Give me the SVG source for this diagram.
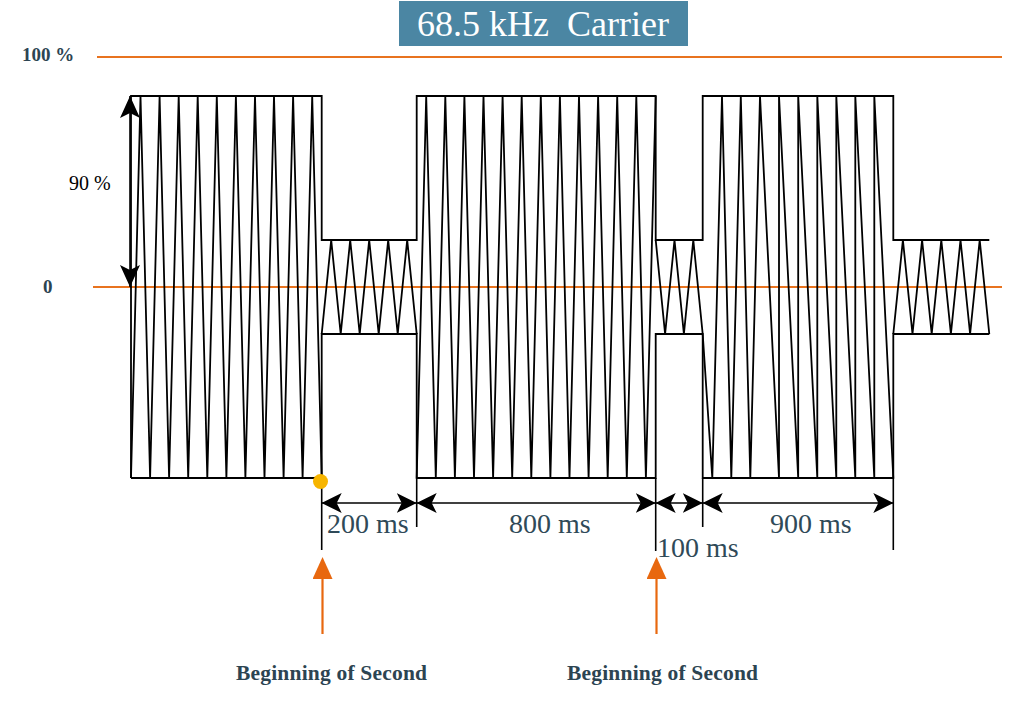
<svg xmlns="http://www.w3.org/2000/svg" width="1009" height="708" viewBox="0 0 1009 708">
  <style>
    .wave { fill: none; stroke: #000; stroke-width: 1.8; stroke-linejoin: miter; }
    .ref { stroke: #E8731F; stroke-width: 2; }
    .dim { stroke: #000; stroke-width: 1.6; fill: none; }
    .ext { stroke: #000; stroke-width: 1.6; }
    .orange { stroke: #E8680F; stroke-width: 2.2; }
    .lbl { font-family: "Liberation Serif", "Times New Roman", serif; fill: #2C4452; font-weight: bold; }
    .dimtxt { font-family: "Liberation Serif", "Times New Roman", serif; fill: #2F4A58; font-size: 28px; }
    .title { font-family: "Liberation Serif", "Times New Roman", serif; fill: #FFFFFF; font-size: 36px; }
  </style>
  <defs>
    <marker id="arr" viewBox="0 0 20 20" refX="20" refY="10" markerWidth="20" markerHeight="20" markerUnits="userSpaceOnUse" orient="auto-start-reverse">
      <path d="M0,0 L20,10 L0,20 L5,10 z" fill="#000"/>
    </marker>
    <marker id="arrV" viewBox="0 0 22 20" refX="22" refY="10" markerWidth="22" markerHeight="20" markerUnits="userSpaceOnUse" orient="auto-start-reverse">
      <path d="M0,0 L22,10 L0,20 L5,10 z" fill="#000"/>
    </marker>
    <marker id="arrO" viewBox="0 0 22 20" refX="0" refY="10" markerWidth="22" markerHeight="20" markerUnits="userSpaceOnUse" orient="auto">
      <path d="M0,0 L22,10 L0,20 z" fill="#E8680F"/>
    </marker>
  </defs>

  <rect width="1009" height="708" fill="#FFFFFF"/>

  <g id="title">
    <rect x="399" y="1" width="289" height="45" fill="#4B86A3"/>
    <text class="title" x="417" y="36">68.5 kHz&#160; Carrier</text>
  </g>

  <g id="reference-lines">
    <line class="ref" x1="97" y1="57" x2="1002" y2="57"/>
    <line class="ref" x1="93" y1="287" x2="1002" y2="287"/>
    <text class="lbl" x="22" y="61" font-size="19">100 %</text>
    <text class="lbl" x="43" y="293" font-size="19">0</text>
  </g>

  <g id="envelope">
    <path class="wave" d="M131,478 L131,96 L321.7,96 L321.7,240 L416.7,240 L416.7,96 L655.7,96 L655.7,240 L702.7,240 L702.7,96 L893.3,96 L893.3,240 L989.3,240"/>
    <path class="wave" d="M131,478 L321.7,478 L321.7,334 L416.7,334 L416.7,478 L655.7,478 L655.7,334 L702.7,334 L702.7,478 L893.3,478 L893.3,334 L989.3,334"/>
  </g>

  <g id="carrier">
    <polyline class="wave" points="131,478 140.5,96 150.1,478 159.6,96 169.1,478 178.7,96 188.2,478 197.7,96 207.3,478 216.8,96 226.4,478 235.9,96 245.4,478 255,96 264.5,478 274,96 283.6,478 293.1,96 302.6,478 312.2,96 321.7,478"/>
    <polyline class="wave" points="321.7,334 331.2,240 340.7,334 350.2,240 359.7,334 369.2,240 378.7,334 388.2,240 397.7,334 407.2,240 416.7,334"/>
    <polyline class="wave" points="416.7,478 426.2,96 435.8,478 445.3,96 454.9,478 464.4,96 474,478 483.5,96 493.1,478 502.6,96 512.2,478 521.7,96 531.3,478 540.8,96 550.4,478 559.9,96 569.5,478 579,96 588.6,478 598.1,96 607.7,478 617.2,96 626.8,478 636.3,96 645.9,478 655.7,96"/>
    <polyline class="wave" points="655.7,240 665.1,334 674.5,240 683.9,334 693.3,240 702.7,334 712.3,478 722,96 731.3,478 740.8,96 750.3,478 760,96 779,478 779,96 798.2,478 798.2,96 817.3,478 817.3,96 836.3,478 836.3,96 855.3,478 855.3,96 874.3,478 874.3,96 893.3,478"/>
    <polyline class="wave" points="893.3,334 902.9,240 912.5,334 922.1,240 931.7,334 941.3,240 950.9,334 960.5,240 970.1,334 979.7,240 989.3,334"/>
  </g>

  <g id="amplitude">
    <line class="dim" x1="130" y1="96" x2="130" y2="287" marker-start="url(#arrV)" marker-end="url(#arrV)"/>
    <text x="69" y="190" font-family="Liberation Serif, Times New Roman, serif" font-size="20" fill="#000">90 %</text>
  </g>

  <g id="connectors">
    <line class="ext" x1="321.7" y1="478" x2="321.7" y2="550"/>
    <line class="ext" x1="416.7" y1="478" x2="416.7" y2="527"/>
    <line class="ext" x1="655.7" y1="478" x2="655.7" y2="551"/>
    <line class="ext" x1="702.7" y1="478" x2="702.7" y2="527"/>
    <line class="ext" x1="893.3" y1="478" x2="893.3" y2="550"/>
    <line class="dim" x1="321.7" y1="503" x2="416.7" y2="503" marker-start="url(#arr)" marker-end="url(#arr)"/>
    <line class="dim" x1="416.7" y1="503" x2="655.7" y2="503" marker-start="url(#arr)" marker-end="url(#arr)"/>
    <line class="dim" x1="655.7" y1="503" x2="702.7" y2="503" marker-start="url(#arr)" marker-end="url(#arr)"/>
    <line class="dim" x1="702.7" y1="503" x2="893.3" y2="503" marker-start="url(#arr)" marker-end="url(#arr)"/>
    <line class="orange" x1="322.5" y1="634" x2="322.5" y2="579" marker-end="url(#arrO)"/>
    <line class="orange" x1="656.5" y1="634" x2="656.5" y2="579" marker-end="url(#arrO)"/>
  </g>

  <g id="durations">
    <text class="dimtxt" x="327" y="533">200 ms</text>
    <text class="dimtxt" x="509" y="533">800 ms</text>
    <text class="dimtxt" x="657" y="557">100 ms</text>
    <text class="dimtxt" x="770" y="533">900 ms</text>
  </g>

  <g id="second-start">
    <circle cx="320.5" cy="481.5" r="7.5" fill="#F7B500"/>
    <text class="lbl" x="236" y="680" font-size="21.5" textLength="191" lengthAdjust="spacing">Beginning of Second</text>
    <text class="lbl" x="567" y="680" font-size="21.5" textLength="191" lengthAdjust="spacing">Beginning of Second</text>
  </g>
</svg>
